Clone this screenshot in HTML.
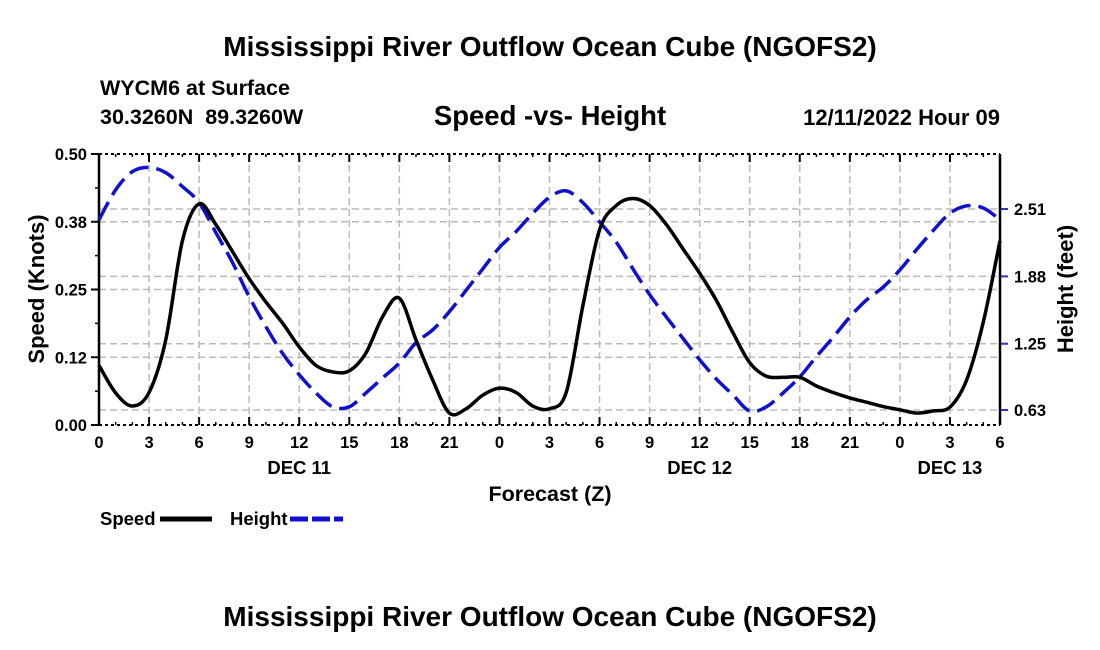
<!DOCTYPE html>
<html><head><meta charset="utf-8"><style>
html,body{margin:0;padding:0;background:#fff;width:1100px;height:650px;overflow:hidden}
svg{display:block;font-family:"Liberation Sans",Arial,sans-serif;font-weight:bold}
</style></head><body>
<svg id="c" width="1100" height="650">
<text x="550" y="56" font-size="28" text-anchor="middle">Mississippi River Outflow Ocean Cube (NGOFS2)</text>
<text x="100" y="95" font-size="21.5">WYCM6 at Surface</text>
<text x="100" y="124" font-size="21.5" xml:space="preserve" style="white-space:pre">30.3260N  89.3260W</text>
<text x="550" y="125" font-size="27.5" text-anchor="middle">Speed -vs- Height</text>
<text x="1000" y="125" font-size="22" text-anchor="end">12/11/2022 Hour 09</text>
<g id="grid"></g>
<g id="axes"></g>
<g id="series"></g>
<text x="550" y="501" font-size="21.5" text-anchor="middle">Forecast (Z)</text>
<text transform="translate(44,289) rotate(-90)" font-size="22" text-anchor="middle">Speed (Knots)</text>
<text transform="translate(1073,289) rotate(-90)" font-size="22" text-anchor="middle">Height (feet)</text>
<g>
<text x="100" y="525" font-size="18.5">Speed</text>
<line x1="160" y1="519" x2="212" y2="519" stroke="#000" stroke-width="5"/>
<text x="230" y="525" font-size="18.5">Height</text>
<line x1="290" y1="519" x2="343" y2="519" stroke="#1010d0" stroke-width="5" stroke-dasharray="18,4"/>
</g>
<text x="550" y="626" font-size="28" text-anchor="middle">Mississippi River Outflow Ocean Cube (NGOFS2)</text>
</svg>
<script>
const xTickLabels=["0","3","6","9","12","15","18","21","0","3","6","9","12","15","18","21","0","3","6"];
const dayLabels=["DEC 11","DEC 12","DEC 13"];
const dayLabelHours=[12,36,51];
const speedTicks=[0,0.125,0.25,0.375,0.5];
const speedTickLabels=["0.00","0.12","0.25","0.38","0.50"];
const heightTicks=[0.63,1.25,1.88,2.51];
const heightTickLabels=["0.63","1.25","1.88","2.51"];
const hours=[0,1,2,3,4,5,6,7,8,9,10,11,12,13,14,15,16,17,18,19,20,21,22,23,24,25,26,27,28,29,30,31,32,33,34,35,36,37,38,39,40,41,42,43,44,45,46,47,48,49,50,51,52,53,54];
const speed=[0.11,0.059,0.035,0.06,0.157,0.34,0.408,0.37,0.32,0.27,0.227,0.188,0.144,0.11,0.098,0.1,0.133,0.2,0.234,0.157,0.083,0.022,0.03,0.055,0.068,0.06,0.035,0.03,0.06,0.22,0.36,0.405,0.418,0.405,0.37,0.325,0.28,0.23,0.17,0.115,0.09,0.088,0.088,0.072,0.06,0.05,0.042,0.034,0.028,0.022,0.026,0.033,0.083,0.19,0.34];
const height=[2.41,2.69,2.86,2.9,2.85,2.72,2.57,2.29,2.01,1.69,1.41,1.16,0.96,0.79,0.66,0.66,0.79,0.93,1.07,1.26,1.38,1.55,1.75,1.95,2.15,2.3,2.47,2.62,2.68,2.57,2.39,2.2,1.95,1.71,1.5,1.3,1.1,0.92,0.77,0.62,0.66,0.79,0.94,1.13,1.31,1.5,1.66,1.78,1.94,2.13,2.31,2.47,2.54,2.52,2.41];

const X0=99,X1=1000,Y0=154,Y1=425,TMAX=54;
const xs=t=>X0+(X1-X0)*t/TMAX;
const ys=s=>Y1-(Y1-Y0)*s/0.5;
const yh=h=>410-(h-0.63)*106.9;
const NS="http://www.w3.org/2000/svg";
function mk(tag,attrs,parent){const e=document.createElementNS(NS,tag);for(const k in attrs)e.setAttribute(k,attrs[k]);parent.appendChild(e);return e;}
const grid=document.getElementById('grid'),axes=document.getElementById('axes'),series=document.getElementById('series');
xTickLabels.forEach((lab,i)=>{const x=xs(i*3);
 if(i>0&&i<xTickLabels.length-1){const g=mk('line',{x1:x,x2:x,y1:Y0,y2:Y1,stroke:'#bbb','stroke-width':1.5,'stroke-dasharray':'7,4'},grid);
 
 }
 const tk=mk('line',{x1:x,x2:x,y1:Y1,y2:Y1-8,stroke:'#000','stroke-width':2},axes);
 
 
 const tk2=mk('line',{x1:x,x2:x,y1:Y0,y2:Y0+8,stroke:'#000','stroke-width':2},axes);
 
 
 const t=mk('text',{x:x,y:Y1+23,'font-size':16.5,'text-anchor':'middle'},axes);t.textContent=lab;
 
 
});
for(let h=1;h<TMAX;h++){if(h%3===0)continue;const x=xs(h);
 mk('line',{x1:x,x2:x,y1:Y1,y2:Y1-3,stroke:'#000','stroke-width':1.5},axes);
 mk('line',{x1:x,x2:x,y1:Y0,y2:Y0+3,stroke:'#000','stroke-width':1.5},axes);}
dayLabels.forEach((d,i)=>{const t=mk('text',{x:xs(dayLabelHours[i]),y:Y1+49,'font-size':18.5,'text-anchor':'middle'},axes);t.textContent=d;
 
 });
speedTicks.forEach((s,i)=>{const y=ys(s);
 if(i>0&&i<speedTicks.length-1){const g=mk('line',{x1:X0,x2:X1,y1:y,y2:y,stroke:'#bbb','stroke-width':1.5,'stroke-dasharray':'7,4'},grid);
 
 }
 mk('line',{x1:X0-8,x2:X0,y1:y,y2:y,stroke:'#000','stroke-width':2},axes);
 const t=mk('text',{x:X0-12,y:y+6,'font-size':16.5,'text-anchor':'end'},axes);t.textContent=speedTickLabels[i];
 
 
 if(i<speedTicks.length-1){mk('line',{x1:X0-4,x2:X0,y1:ys(s+0.0625),y2:ys(s+0.0625),stroke:'#000','stroke-width':1.5},axes);}
});
heightTicks.forEach((h,i)=>{const y=yh(h);
 const g=mk('line',{x1:X0,x2:X1,y1:y,y2:y,stroke:'#bbb','stroke-width':1.5,'stroke-dasharray':'7,4'},grid);
 
 
 mk('line',{x1:X1,x2:X1+8,y1:y,y2:y,stroke:'#3030c0','stroke-width':2},axes);
 const t=mk('text',{x:X1+14,y:y+6,'font-size':16.5},axes);t.textContent=heightTickLabels[i];
 
 
});
mk('line',{x1:X0,x2:X0,y1:Y0,y2:Y1,stroke:'#000','stroke-width':2.5},axes);
mk('line',{x1:X1,x2:X1,y1:Y0,y2:Y1,stroke:'#000','stroke-width':2.5},axes);
mk('line',{x1:X0,x2:X1,y1:Y0,y2:Y0,stroke:'#000','stroke-width':2,'stroke-dasharray':'3,3'},axes);
mk('line',{x1:X0,x2:X1,y1:Y1,y2:Y1,stroke:'#000','stroke-width':2,'stroke-dasharray':'3,3'},axes);
function smooth(pts){let d='M'+pts[0][0]+','+pts[0][1];
 for(let i=0;i<pts.length-1;i++){const p0=pts[Math.max(0,i-1)],p1=pts[i],p2=pts[i+1],p3=pts[Math.min(pts.length-1,i+2)];
 d+=' C'+(p1[0]+(p2[0]-p0[0])/6)+','+(p1[1]+(p2[1]-p0[1])/6)+' '+(p2[0]-(p3[0]-p1[0])/6)+','+(p2[1]-(p3[1]-p1[1])/6)+' '+p2[0]+','+p2[1];}
 return d;}
const hp=mk('path',{d:smooth(hours.map((t,i)=>[xs(t),yh(height[i])])),fill:'none',stroke:'#1010d0','stroke-width':3.5,'stroke-dasharray':'20,8'},series);


const sp=mk('path',{d:smooth(hours.map((t,i)=>[xs(t),ys(speed[i])])),fill:'none',stroke:'#000','stroke-width':3.5},series);


</script>
</body></html>
